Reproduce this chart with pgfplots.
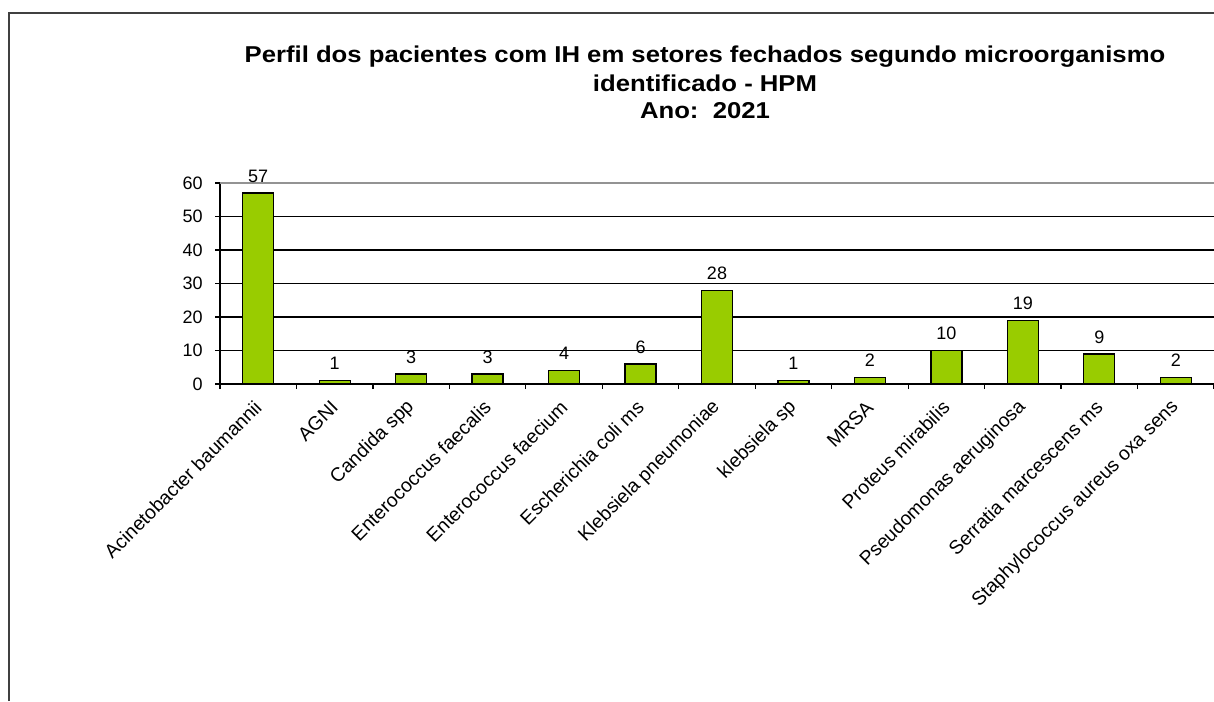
\documentclass[border=0pt]{standalone}
\usepackage{fontspec}
\setmainfont{Liberation Sans}
\newfontfamily\titlefont{Liberation Sans}[FakeStretch=1.12]
\usepackage{pgfplots}
\pgfplotsset{compat=1.18}
\definecolor{barg}{HTML}{99CC00}
\definecolor{frameg}{HTML}{404040}
\begin{document}
\begin{tikzpicture}
\useasboundingbox (0,0) rectangle (910.5pt,525.75pt);
\clip (0,0) rectangle (910.5pt,525.75pt);
\draw[frameg, line width=1.1pt] (6.75pt,0) -- (6.75pt,516pt) -- (912pt,516pt);
\node[anchor=base, font=\titlefont\fontsize{17.2}{20}\selectfont\bfseries] at (528.75pt,478.5pt) {Perfil dos pacientes com IH em setores fechados segundo microorganismo};
\node[anchor=base, font=\titlefont\fontsize{17.2}{20}\selectfont\bfseries] at (528.75pt,456.75pt) {identificado - HPM};
\node[anchor=base, font=\titlefont\fontsize{17.2}{20}\selectfont\bfseries] at (528.75pt,436.5pt) {Ano:\ \ 2021};
\begin{axis}[
  at={(165pt,237.75pt)}, anchor=south west,
  scale only axis, width=745.5pt, height=150.75pt,
  xmin=-0.5, xmax=12.5, ymin=0, ymax=60,
  axis lines*=left,
  axis line style={black, line width=1.1pt, -},
  tick align=outside,
  major tick length=3.75pt,
  tick style={black, line width=0.9pt},
  xtick={-0.5,0.5,...,12.5},
  xticklabels={},
  extra x ticks={0,1,...,12},
  extra x tick labels={Acinetobacter baumannii, AGNI, Candida spp, Enterococcus faecalis, Enterococcus faecium, Escherichia coli ms, Klebsiela pneumoniae, klebsiela sp, MRSA, Proteus mirabilis, Pseudomonas aeruginosa, Serratia marcescens ms, Staphylococcus aureus oxa sens},
  extra x tick style={major tick length=0pt},
  xticklabel style={font=\fontsize{14.5}{16}\selectfont, rotate=45, anchor=east, inner sep=0pt},
  xticklabel shift=15pt,
  ytick={0,10,...,50},
  extra y ticks={60},
  extra y tick style={grid style={draw=gray!85, line width=1.2pt}},
  ymajorgrids,
  grid style={black, line width=0.9pt},
  yticklabel style={font=\fontsize{13.5}{15}\selectfont, anchor=east, inner sep=0pt},
  yticklabel shift=9pt,
  /pgf/number format/assume math mode=true,
  ybar, bar width=23.25pt,
  nodes near coords,
  nodes near coords style={font=\fontsize{13.5}{15}\selectfont, anchor=south, inner sep=0pt, yshift=7.5pt},
  clip=false,
]
\addplot[fill=barg, draw=black, line width=1pt, bar shift=0pt] coordinates {
(0,57) (1,1) (2,3) (3,3) (4,4) (5,6) (6,28) (7,1) (8,2) (9,10) (10,19) (11,9) (12,2)};
\end{axis}
\end{tikzpicture}
\end{document}
